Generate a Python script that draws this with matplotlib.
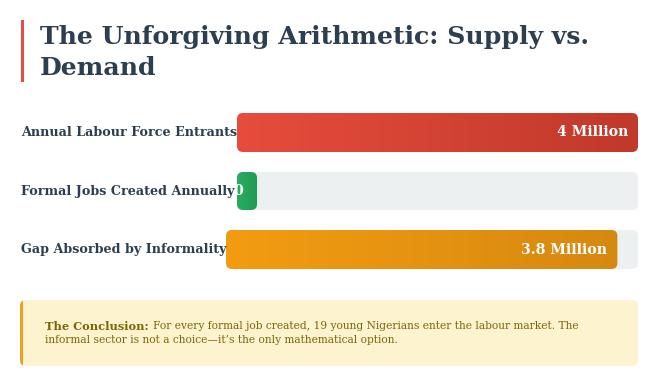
import matplotlib
matplotlib.use("Agg")
import matplotlib.pyplot as plt
import numpy as np
from matplotlib.patches import FancyBboxPatch, Rectangle
from matplotlib.colors import LinearSegmentedColormap

title_lines = ["The Unforgiving Arithmetic: Supply vs.", "Demand"]
labels = ["Annual Labour Force Entrants", "Formal Jobs Created Annually", "Gap Absorbed by Informality"]
values = [4.0, 0.2, 3.8]
value_text = ["4 Million", "0", "3.8 Million"]
scale_max = 4.0
grad_colors = [("#e74c3c", "#c0392b"), ("#27ae60", "#229954"), ("#f39c12", "#d68910")]

W, H = 670, 376
fig = plt.figure(figsize=(W / 100, H / 100), dpi=100)
fig.patch.set_facecolor("white")

serif = ["DejaVu Serif"]
navy = "#2c3e50"

def fx(px):
    return px / W

def fy(px):
    return 1 - px / H

# title with red accent bar
fig.patches.append(Rectangle((fx(21), fy(82)), fx(3), (82 - 20) / H, transform=fig.transFigure,
                             color="#e74c3c", lw=0))
for line, base in zip(title_lines, [44, 75]):
    fig.text(fx(40), fy(base), line, family=serif, weight="bold", fontsize=18.1, color=navy,
             va="baseline", ha="left")

# rows: track left/right in pixels, top/bottom
rows = [(237, 638, 113, 152), (237, 638, 172, 210), (226, 638, 230, 269)]
pads = [10, 14, 10]

for i, (x0, x1, y0, y1) in enumerate(rows):
    fig.text(fx(21), fy((y0 + y1) / 2), labels[i], family=serif, weight="bold", fontsize=9.2,
             color=navy, va="center", ha="left")
    wpx, hpx = x1 - x0, y1 - y0
    ax = fig.add_axes([fx(x0), fy(y1), wpx / W, hpx / H])
    ax.set_xlim(0, scale_max)
    ax.set_ylim(0, 1)
    ax.axis("off")
    r = 6
    rx = r * scale_max / wpx
    asp = (r / hpx) / rx
    track = FancyBboxPatch((0, 0), scale_max, 1, boxstyle=f"round,pad=0,rounding_size={rx}",
                           mutation_aspect=asp, fc="#ecf0f1", ec="none")
    ax.add_patch(track)
    bar = FancyBboxPatch((0, 0), values[i], 1, boxstyle=f"round,pad=0,rounding_size={rx}",
                         mutation_aspect=asp, fc="none", ec="none")
    ax.add_patch(bar)
    cmap = LinearSegmentedColormap.from_list("g", grad_colors[i])
    grad = np.linspace(0, 1, 256).reshape(1, -1)
    im = ax.imshow(grad, extent=[0, values[i], 0, 1], aspect="auto", cmap=cmap, zorder=2)
    im.set_clip_path(bar)
    t = ax.text(values[i] - pads[i] * scale_max / wpx, 0.5, value_text[i], family=serif,
                weight="bold", fontsize=10.2, color="white", ha="right", va="center", zorder=3)
    t.set_clip_path(bar)
    ax.set_xlim(0, scale_max)
    ax.set_ylim(0, 1)

# conclusion box
bx0, bx1, by0, by1 = 20, 638, 300, 366
box_ax = fig.add_axes([0, 0, 1, 1])
box_ax.set_xlim(0, W)
box_ax.set_ylim(H, 0)
box_ax.axis("off")
box_ax.set_zorder(-1)
box = FancyBboxPatch((bx0, by0), bx1 - bx0, by1 - by0,
                     boxstyle="round,pad=0,rounding_size=6", fc="#fef3cf", ec="none")
box_ax.add_patch(box)
edge = Rectangle((bx0, by0), 3, by1 - by0, fc="#f0a020", ec="none")
box_ax.add_patch(edge)
edge.set_clip_path(box)

brown = "#7d6608"
bold_part = box_ax.text(45, 326, "The Conclusion:", family=serif, weight="bold", fontsize=8.2,
                        color=brown, va="center", ha="left")
fig.canvas.draw()
end_x = bold_part.get_window_extent().x1
fig.text((end_x + 4) / W, fy(326),
         "For every formal job created, 19 young Nigerians enter the labour market. The",
         family=serif, fontsize=7.7, color=brown, va="center", ha="left")
box_ax.text(45, 340, "informal sector is not a choice\u2014it\u2019s the only mathematical option.",
            family=serif, fontsize=7.7, color=brown, va="center", ha="left")

fig.savefig("out.png", dpi=100, facecolor="white")
